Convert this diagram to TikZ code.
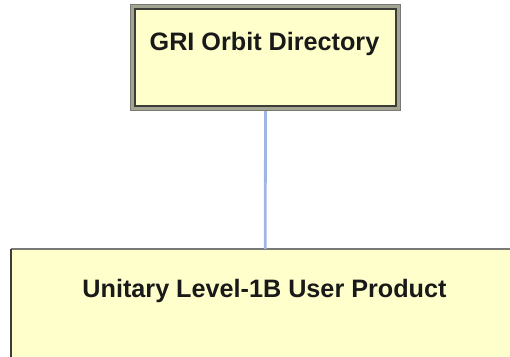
\documentclass[tikz,border=0pt]{standalone}
\usepackage{fontspec}
\setmainfont{Liberation Sans}
\definecolor{boxfill}{HTML}{FFFFCC}
\definecolor{band}{HTML}{A4A492}
\definecolor{outerln}{HTML}{7A7A74}
\definecolor{innerln}{HTML}{3C3C38}
\definecolor{linkblue}{HTML}{9DB6E4}
\tikzset{
  boxtext/.style={font=\bfseries\fontsize{25.2}{29}\selectfont, text=black!90, anchor=base, inner sep=0pt},
  link/.style={draw=linkblue, line width=2.8pt},
}
\begin{document}
\begin{tikzpicture}[x=1pt,y=-1pt]
\useasboundingbox (0,0) rectangle (510,356);
% top box (outer frame with band and inner line)
\node (gri) [draw=outerln, line width=1.2pt, fill=band, minimum width=270pt, minimum height=106pt, inner sep=0pt] at (265.5,57.5) {};
\node (griin) [draw=innerln, line width=1.4pt, fill=boxfill, minimum width=261pt, minimum height=97pt, inner sep=0pt] at (265.5,57.5) {};
\node (gritxt) [boxtext] at (264.5,50) {GRI Orbit Directory};
% bottom box
\node (ulp) [fill=boxfill, minimum width=508pt, minimum height=120pt, inner sep=0pt, anchor=north west] at (11,249) {};
\draw[draw=outerln, line width=2pt] (ulp.north west) -- (ulp.north east);
\draw[draw=innerln, line width=1.6pt] (ulp.north west) -- (ulp.south west);
\node (ulptxt) [boxtext] at (264.5,297) {Unitary Level-1B User Product};
% connector
\draw[link] (gri.south) -- (ulp.north);
\end{tikzpicture}
\end{document}
